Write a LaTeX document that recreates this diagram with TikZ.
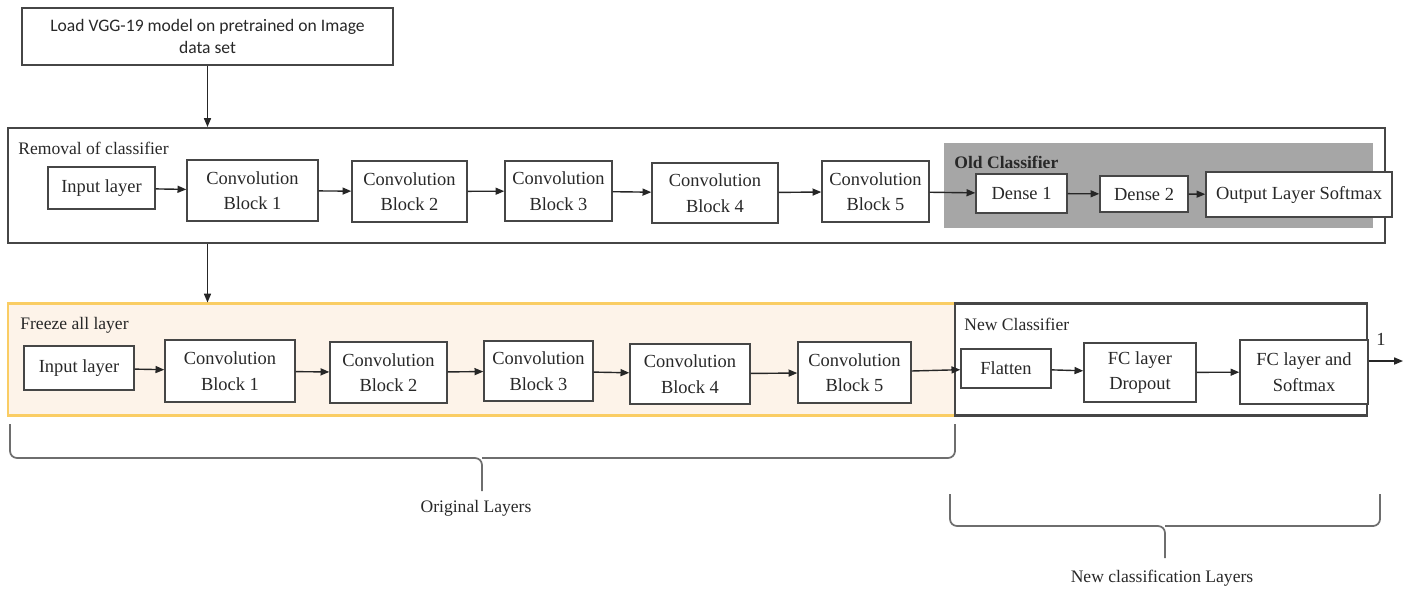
\documentclass[tikz,border=0pt]{standalone}
\usepackage{fontspec}
\setmainfont{Liberation Serif}
\newfontfamily\calibri{Carlito}
\definecolor{boxline}{RGB}{70,70,70}
\definecolor{oldgray}{RGB}{166,166,166}
\definecolor{freezefill}{RGB}{253,243,233}
\definecolor{freezeborder}{RGB}{250,205,100}
\definecolor{bracegray}{RGB}{110,110,110}
\definecolor{inktext}{RGB}{40,40,40}
\usetikzlibrary{arrows.meta,positioning}

\tikzset{
  layer/.style={draw=boxline,fill=white,line width=0.8pt,align=center,inner sep=1pt,
    font=\fontsize{10.5}{14.5}\selectfont,text=inktext},
  stage/.style={draw=boxline,line width=1.2pt,inner sep=0pt},
  stagelabel/.style={anchor=west,font=\fontsize{10}{12}\selectfont,text=inktext,inner sep=0pt},
  flow/.style={-{Triangle[length=5pt,width=4pt]},line width=0.8pt,draw=black!85},
}

\begin{document}
\begin{tikzpicture}[x=0.02cm,y=-0.02cm]
\useasboundingbox (0,0) rectangle (1407,589);

% loading the model
\node[draw=boxline,line width=0.8pt,minimum width=7.42cm,minimum height=1.14cm,align=center,
      font=\calibri\fontsize{10}{12.5}\selectfont,text=inktext] (load) at (207.5,36.5)
  {Load VGG-19 model on pretrained on Image\\data set};

% removal of classifier
\node[stage,minimum width=27.54cm,minimum height=2.30cm] (removal) at (696.5,185.5) {};
\node[stagelabel] at (18,148) {Removal of classifier};
\node[fill=oldgray,minimum width=8.58cm,minimum height=1.70cm,inner sep=0pt] (old) at (1158.5,185.5) {};
\node[stagelabel,font=\fontsize{10}{12}\selectfont\bfseries] at (954,162) {Old Classifier};

\node[layer,minimum width=2.14cm,minimum height=0.84cm] (rin) at (101.5,188) {Input layer};
\node[layer,minimum width=2.62cm,minimum height=1.22cm] (rc1) at (252.5,190.5) {Convolution\\Block 1};
\node[layer,minimum width=2.30cm,minimum height=1.22cm] (rc2) at (409.5,191.5) {Convolution\\Block 2};
\node[layer,minimum width=2.14cm,minimum height=1.20cm] (rc3) at (558.5,191) {Convolution\\Block 3};
\node[layer,minimum width=2.52cm,minimum height=1.20cm] (rc4) at (715,193) {Convolution\\Block 4};
\node[layer,minimum width=2.14cm,minimum height=1.22cm] (rc5) at (875.5,191.5) {Convolution\\Block 5};
\node[layer,minimum width=1.82cm,minimum height=0.78cm] (dense1) at (1021.5,193.5) {Dense 1};
\node[layer,minimum width=1.76cm,minimum height=0.72cm] (dense2) at (1144,194) {Dense 2};
\node[layer,minimum width=3.72cm,minimum height=0.90cm] (rout) at (1299,194.5) {Output Layer Softmax};

\draw[flow] (rin) -- (rc1);
\draw[flow] (rc1) -- (rc2);
\draw[flow] (rc2) -- (rc3);
\draw[flow] (rc3) -- (rc4);
\draw[flow] (rc4) -- (rc5);
\draw[flow] (rc5) -- (dense1);
\draw[flow] (dense1) -- (dense2);
\draw[flow] (dense2) -- (rout);

% freeze + new classifier
\node[draw=freezeborder,fill=freezefill,line width=1.2pt,minimum width=18.94cm,minimum height=2.24cm,inner sep=0pt]
  (freeze) at (481.5,359.5) {};
\node[stage,minimum width=8.24cm,minimum height=2.24cm] (newcls) at (1161,359.5) {};
\node[stagelabel] at (20,325) {Freeze all layer};
\node[stagelabel] at (964,324) {New Classifier};

\node[layer,minimum width=2.20cm,minimum height=0.88cm] (fin) at (79,368) {Input layer};
\node[layer,minimum width=2.60cm,minimum height=1.24cm] (fc1) at (230,371) {Convolution\\Block 1};
\node[layer,minimum width=2.34cm,minimum height=1.22cm] (fc2) at (388.5,372.5) {Convolution\\Block 2};
\node[layer,minimum width=2.18cm,minimum height=1.20cm] (fc3) at (538.5,371) {Convolution\\Block 3};
\node[layer,minimum width=2.40cm,minimum height=1.20cm] (fc4) at (690,374) {Convolution\\Block 4};
\node[layer,minimum width=2.26cm,minimum height=1.22cm] (fc5) at (854.5,372.5) {Convolution\\Block 5};
\node[layer,minimum width=1.80cm,minimum height=0.78cm] (flat) at (1006,368.5) {Flatten};
\node[layer,minimum width=2.24cm,minimum height=1.18cm] (fcdrop) at (1140,372.5) {FC layer\\Dropout};
\node[layer,minimum width=2.56cm,minimum height=1.28cm] (fcsoft) at (1304,372) {FC layer and\\Softmax};

\draw[flow] (fin) -- (fc1);
\draw[flow] (fc1) -- (fc2);
\draw[flow] (fc2) -- (fc3);
\draw[flow] (fc3) -- (fc4);
\draw[flow] (fc4) -- (fc5);
\draw[flow] (fc5) -- (flat);
\draw[flow] (flat) -- (fcdrop);
\draw[flow] (fcdrop) -- (fcsoft);

\coordinate (outend) at (1403,361);
\draw[flow] (fcsoft.east |- outend) -- (outend);
\node[font=\fontsize{10.5}{12}\selectfont,text=inktext] (outlab) at (1381,339) {1};

% vertical flow between stages
\draw[flow] (load.south) -- (load.south |- removal.north);
\draw[flow] (load.south |- removal.south) -- (load.south |- freeze.north);

% braces
\draw[bracegray,line width=1pt,rounded corners=4pt] (10,424) |- (482,458) -- (482,491);
\draw[bracegray,line width=1pt,rounded corners=4pt] (955,424) |- (482,458);
\node[font=\fontsize{10}{12}\selectfont,text=inktext] (origlab) at (476,508) {Original Layers};

\draw[bracegray,line width=1pt,rounded corners=4pt] (950,494) |- (1165,526) -- (1165,558);
\draw[bracegray,line width=1pt,rounded corners=4pt] (1380,494) |- (1165,526);
\node[font=\fontsize{10}{12}\selectfont,text=inktext] (newlab) at (1162,578) {New classification Layers};
\end{tikzpicture}
\end{document}
